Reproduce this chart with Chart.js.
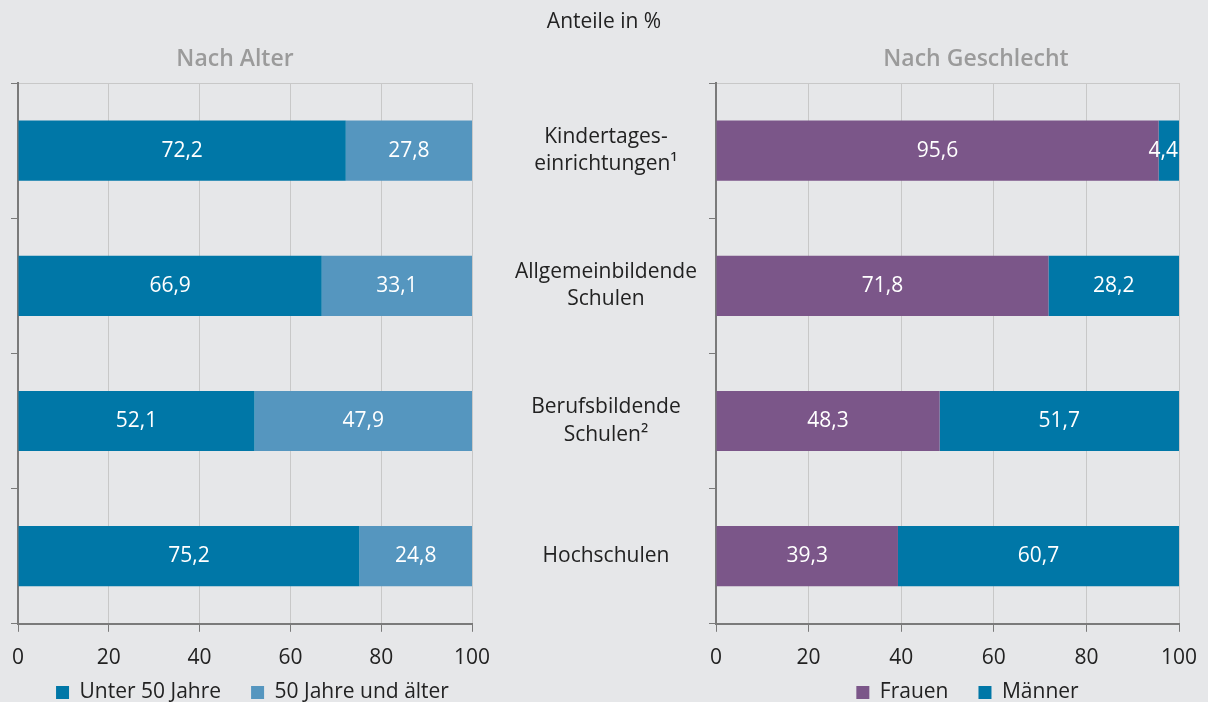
<!DOCTYPE html>
<html lang="de">
<head>
<meta charset="utf-8">
<title>Anteile in %</title>
<script src="https://cdn.jsdelivr.net/npm/chart.js@4/dist/chart.umd.min.js"></script>
<style>
  html, body { margin: 0; padding: 0; background: #e6e7e9; }
  #wrap { position: relative; width: 1208px; height: 702px; overflow: hidden; font-family: "Open Sans", sans-serif; }
  canvas { position: absolute; top: 0; }
  #left { left: 0; }
  #right { left: 490px; }
  .txt { position: absolute; white-space: nowrap; transform: translateX(-50%); }
  #unit { left: 604px; top: 10px; font-size: 21px; line-height: 21px; color: #222; }
  .panel { top: 46px; font-size: 23px; line-height: 23px; font-weight: 600; color: #9b9b9b; }
  #t-age { left: 235px; }
  #t-sex { left: 976px; }
</style>
</head>
<body>
<div id="wrap">
  <canvas id="left" width="490" height="702"></canvas>
  <canvas id="right" width="718" height="702"></canvas>
  <div class="txt" id="unit">Anteile in %</div>
  <div class="txt panel" id="t-age">Nach Alter</div>
  <div class="txt panel" id="t-sex">Nach Geschlecht</div>
</div>
<script>
const categories = [
  ["Kindertages-", "einrichtungen¹"],
  ["Allgemeinbildende", "Schulen"],
  ["Berufsbildende", "Schulen²"],
  "Hochschulen",
];
const under50 = [72.2, 66.9, 52.1, 75.2];
const over50 = [27.8, 33.1, 47.9, 24.8];
const women = [95.6, 71.8, 48.3, 39.3];
const men = [4.4, 28.2, 51.7, 60.7];

const FONT = '"Open Sans", sans-serif';
const DARK_BLUE = "#0077a7";
const LIGHT_BLUE = "#5596bf";
const PURPLE = "#7b5689";
const GRID = "#c8c8c8";
const AXIS = "#7a7a7a";
const TEXT = "#222";

Chart.defaults.font.family = FONT;
Chart.defaults.font.size = 21;
Chart.defaults.color = TEXT;

// white numbers in the middle of each segment
const valueLabels = {
  id: "valueLabels",
  afterDatasetsDraw(chart) {
    const { ctx, chartArea } = chart;
    ctx.save();
    ctx.font = `21px ${FONT}`;
    ctx.fillStyle = "#fff";
    ctx.textAlign = "center";
    ctx.textBaseline = "middle";
    chart.data.datasets.forEach((ds, i) => {
      chart.getDatasetMeta(i).data.forEach((bar, j) => {
        const text = ds.data[j].toFixed(1).replace(".", ",");
        const w = ctx.measureText(text).width;
        const x = Math.min((bar.x + bar.base) / 2, chartArea.right - w / 2 - 1);
        ctx.fillText(text, x, bar.y);
      });
    });
    ctx.restore();
  },
};

// move the legend a bit, the original sits lower and off-centre
const legendShift = {
  id: "legendShift",
  afterLayout(chart, args, opts) {
    const { dx = 0, dy = 0 } = opts || {};
    const lg = chart.legend;
    lg.left += dx;
    lg.right += dx;
    lg.top += dy;
    lg.bottom += dy;
  },
};

function makeChart(canvas, datasets, opts) {
  return new Chart(canvas, {
    type: "bar",
    data: { labels: categories, datasets },
    options: {
      indexAxis: "y",
      responsive: false,
      animation: false,
      devicePixelRatio: 1,
      layout: { padding: opts.padding },
      datasets: { bar: { categoryPercentage: 1, barPercentage: 0.445, borderWidth: 0 } },
      scales: {
        x: {
          stacked: true,
          min: 0,
          max: 100,
          ticks: { stepSize: 20, padding: 14, color: TEXT, font: { size: 21 } },
          grid: { color: GRID, tickColor: AXIS, tickLength: 8, lineWidth: 1 },
          border: { color: AXIS, width: 2 },
          afterFit: (s) => { s.paddingLeft = 0; s.paddingRight = 0; },
        },
        y: {
          stacked: true,
          ticks: {
            display: opts.showLabels,
            crossAlign: "center",
            padding: 12,
            color: TEXT,
            font: { size: 21, lineHeight: 1.3 },
          },
          grid: {
            color: (ctx) => (ctx.index === 0 ? GRID : "transparent"),
            tickColor: AXIS,
            tickLength: 7,
          },
          border: { color: AXIS, width: 2 },
          afterFit: opts.yWidth ? (s) => { s.width = opts.yWidth; } : undefined,
        },
      },
      plugins: {
        tooltip: { enabled: false },
        legend: {
          position: "bottom",
          fullSize: opts.legendFull,
          labels: { boxWidth: 13, boxHeight: 13, padding: 30, color: TEXT, font: { size: 21 } },
        },
        legendShift: { dx: opts.legendDx, dy: -33 },
      },
    },
    plugins: [valueLabels, legendShift],
  });
}

makeChart(document.getElementById("left"), [
  { label: "Unter 50 Jahre", data: under50, backgroundColor: DARK_BLUE },
  { label: "50 Jahre und älter", data: over50, backgroundColor: LIGHT_BLUE },
], { padding: { left: 11, right: 18, top: 83, bottom: -44 }, showLabels: false, legendFull: true, legendDx: 11 });

makeChart(document.getElementById("right"), [
  { label: "Frauen", data: women, backgroundColor: PURPLE },
  { label: "Männer", data: men, backgroundColor: DARK_BLUE },
], { padding: { left: 0, right: 29, top: 83, bottom: -44 }, showLabels: true, yWidth: 226, legendFull: false, legendDx: 20 });
</script>
</body>
</html>
